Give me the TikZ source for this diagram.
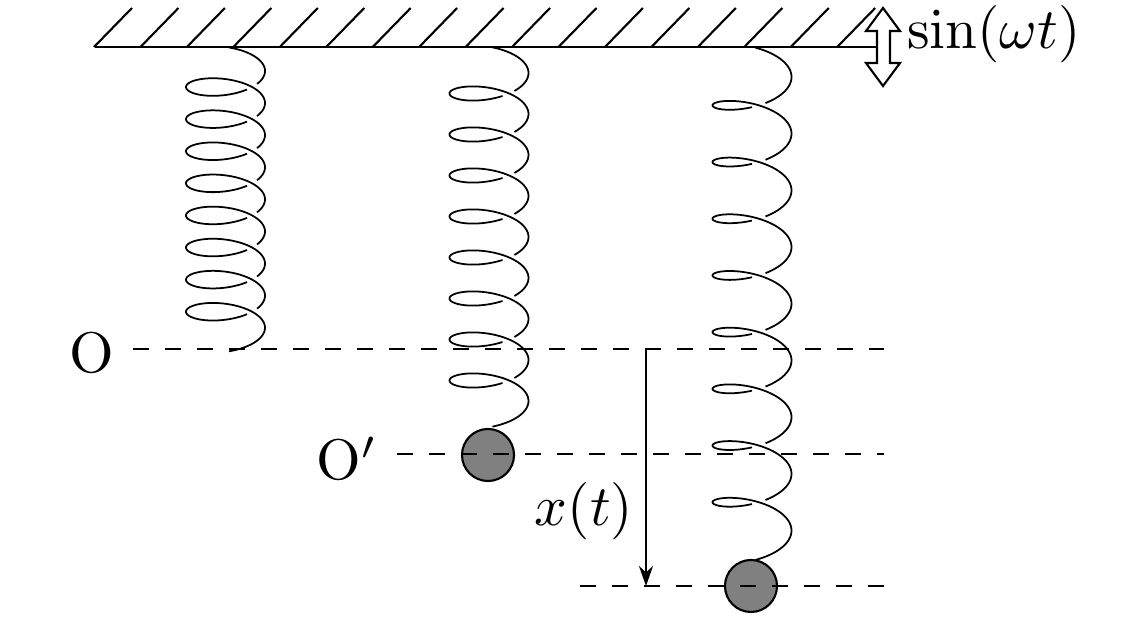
\documentclass[tikz,border=0pt]{standalone}
\usepackage{amsfonts, amssymb, amsmath}
\usepackage{tikz}
\usetikzlibrary{arrows.meta}
\tikzset{l/.style={scale=1.63,inner sep=0pt}}
\tikzset{m/.style={circle,draw,fill=black!50,line width=.6pt,minimum size=.52cm,inner sep=0pt}}
\tikzset{coil/.style={line width=.5pt,samples=70,smooth}}
\tikzset{level/.style={line width=.6pt,dash pattern=on 4.6pt off 4.5pt}}
\newcommand{\spring}[4]{
  \draw[coil,domain=-85:{#4-10}] plot ({#1+39.5*cos(\x)},{#2+#3*(\x/360)+16*sin(\x)});
  \foreach \k in {0,...,6} {
    \pgfmathsetmacro{\ta}{#4+10+360*\k}
    \pgfmathsetmacro{\tb}{#4-10+360*(\k+1)}
    \draw[coil,domain=\ta:\tb] plot ({#1+39.5*cos(\x)},{#2+#3*(\x/360)+16*sin(\x)});
  }
  \pgfmathsetmacro{\ta}{#4+10+2520}
  \draw[coil,domain=\ta:2965] plot ({#1+39.5*cos(\x)},{#2+#3*(\x/360)+16*sin(\x)});
}

\begin{document}
\begin{tikzpicture}[x=.01cm,y=-.01cm]
  \useasboundingbox (0,0) rectangle (1130,622);
  \coordinate (GL) at (95,47);
  \coordinate (GR) at (877,47);
  \draw[line width=.6pt] (GL) -- (GR);
  \foreach \h in {0,...,16}
    \draw[line width=.6pt] ({94+46.45*\h},47) -- ++(38,-39);
  \filldraw[line width=.6pt,fill=white] (883,8) -- (900,31) -- (890,31) -- (890,63) -- (900,63)
    -- (883,86) -- (866,63) -- (877,63) -- (877,31) -- (866,31) -- cycle;
  \node[l] (S) at (994,34) {$\sin(\omega t)$};

  \spring{225.5}{71}{32.1}{47}
  \spring{489}{73}{41}{60}
  \spring{752}{77}{56.7}{80}

  \node[m] (M1) at (488,455) {};
  \node[m] (M2) at (751,586) {};

  \node[l] (O) at (92,353) {O};
  \node[l] (Op) at (347,459) {O$'$};
  \coordinate (OL) at (133,349);
  \coordinate (OR) at (884,349);
  \coordinate (PL) at (397,454);
  \coordinate (PR) at (884,454);
  \coordinate (QL) at (580,586);
  \coordinate (QR) at (884,586);
  \draw[level] (OL) -- (OR);
  \draw[level] (PL) -- (PR);
  \draw[level] (QL) -- (QR);

  \coordinate (XA) at (646,349);
  \coordinate (XB) at (646,586);
  \draw[line width=.6pt,-{Stealth[length=5.7pt,width=4pt]}] (XA) -- (XB);
  \node[l] (X) at (584,511) {$x(t)$};
\end{tikzpicture}
\end{document}
